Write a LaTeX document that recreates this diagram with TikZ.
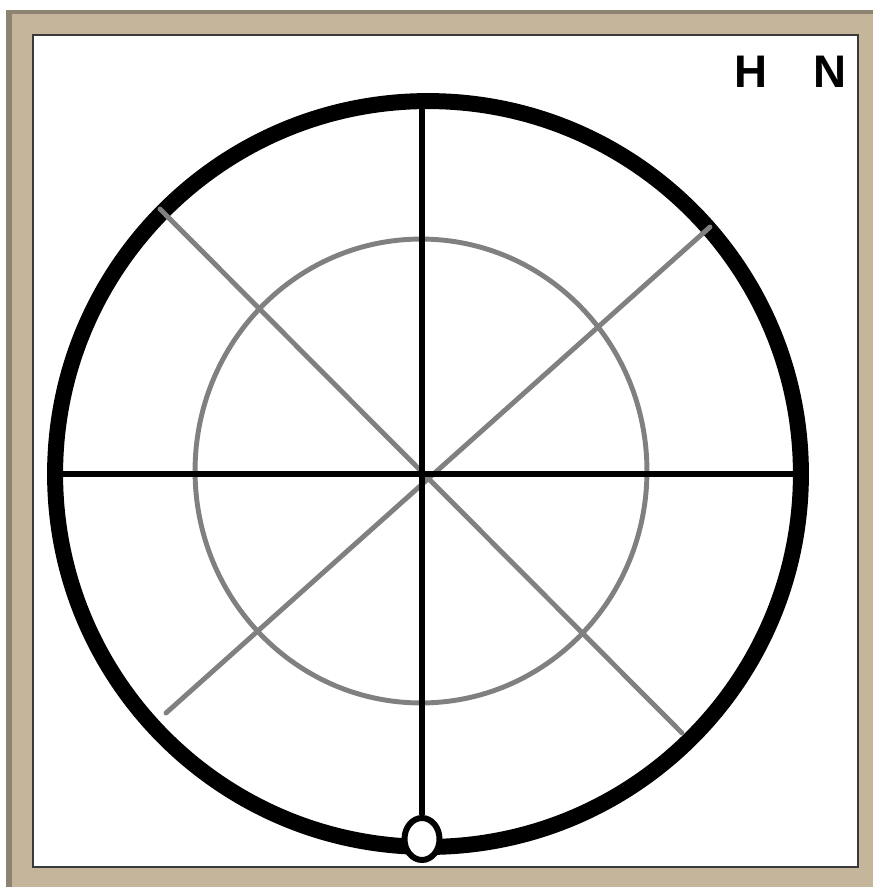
\documentclass[tikz,border=0pt]{standalone}
\usepackage{fontspec}
\setmainfont{Liberation Sans}
\usetikzlibrary{shapes.geometric}
\definecolor{FrameTan}{HTML}{C4B59B}
\definecolor{FrameShade}{HTML}{8C8370}
\definecolor{FrameLine}{HTML}{3A3A3A}
\definecolor{GridGray}{HTML}{808080}

\begin{document}
\begin{tikzpicture}[
    x=0.02cm, y=-0.02cm,
    rimline/.style={
      draw=black,
      circle,
      minimum size=14.92cm,
      inner sep=0pt,
      line width=9.1pt
    },
    ring/.style={
      draw=GridGray,
      ellipse,
      minimum width=9.04cm,
      minimum height=9.28cm,
      inner sep=0pt,
      line width=2.8pt
    },
    bubble/.style={
      draw=black,
      fill=white,
      ellipse,
      minimum width=0.7cm,
      minimum height=0.84cm,
      inner sep=0pt,
      line width=3.4pt
    },
    axis/.style={
      draw=black,
      line width=3pt
    },
    diag/.style={
      draw=GridGray,
      line width=2.8pt,
      line cap=round
    },
    letter/.style={
      font=\fontsize{26}{26}\selectfont\bfseries,
      anchor=base,
      inner sep=0pt
    }
  ]
  \useasboundingbox (0,0) rectangle (873,889);

  % Frame
  \fill[FrameTan] (6,10) rectangle (873,887);
  \fill[FrameShade] (6,10) rectangle (873,14);
  \fill[FrameShade] (6,10) rectangle (12,887);
  \draw[FrameLine,fill=white,line width=1.1pt] (33,35) rectangle (858,867);

  % Circles
  \node[ring] (inner) at (421,471) {};
  \node[rimline] (rim) at (428,474) {};

  % Diagonals
  \coordinate (nw) at (160,209);
  \coordinate (se) at (682,733);
  \coordinate (ne) at (710,227);
  \coordinate (sw) at (166,713);
  \draw[diag] (nw) -- (se);
  \draw[diag] (ne) -- (sw);

  % Axes
  \node[bubble] (bubble) at (422,839) {};
  \draw[axis] (rim.west) -- (rim.east);
  \draw[axis] (bubble.north) -- (bubble.north |- rim.north);

  % Labels
  \node[letter] (hlabel) at (751,87) {H};
  \node[letter] (nlabel) at (830,87) {N};
\end{tikzpicture}
\end{document}
